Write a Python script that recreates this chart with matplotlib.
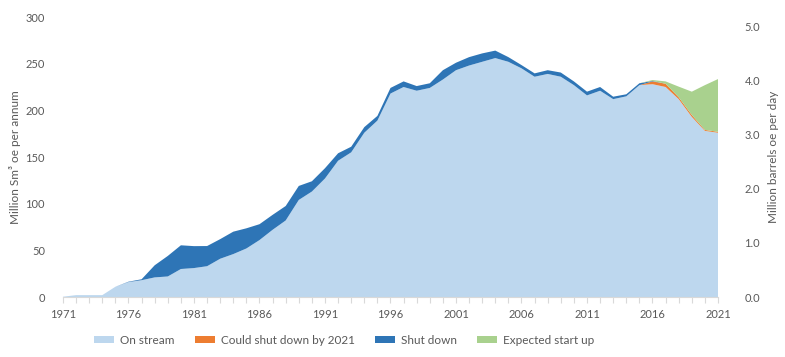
import matplotlib
matplotlib.use("Agg")
import matplotlib.pyplot as plt
from matplotlib.ticker import MultipleLocator, FormatStrFormatter
from matplotlib.patches import Patch

plt.rcParams['font.family'] = ['Lato', 'DejaVu Sans']

years = list(range(1971, 2022))
on_stream = [0.3, 2, 2, 2, 11, 16, 18, 21, 22, 30,
             31, 33, 41, 46, 52, 61, 72, 82, 104, 113,
             127, 146, 155, 176, 189, 218, 225, 221, 224, 233,
             243, 248, 252, 256, 252, 245, 236, 239, 236, 227,
             216, 221, 212, 215, 227, 228, 225, 212, 193, 178,
             176]
could_shut = [0] * 45 + [3, 3.5, 2, 2, 1, 1]
shut_down = [0, 0, 0, 0, 0, 0.4, 1, 13, 22, 25.4,
             23.5, 21.6, 21, 24, 21.6, 17, 16, 15.5, 15, 11,
             11, 8, 6, 6, 5, 6, 6, 5, 5, 10,
             8, 9, 9, 8, 5, 3.5, 3.6, 4, 4.5, 4,
             4, 4, 2.6, 2.2, 2, 0.5, 0, 0, 0, 0,
             0]
startup = [0] * 45 + [1, 2.5, 11.4, 25, 48, 56.5]

labels = ["On stream", "Could shut down by 2021", "Shut down", "Expected start up"]
colors = ["#BDD7EE", "#ED7D31", "#2E75B6", "#A9D18E"]
xtick_years = [1971, 1976, 1981, 1986, 1991, 1996, 2001, 2006, 2011, 2016, 2021]
conv = 58.07  # Msm3 oe per year per million barrels per day

W, H = 785, 357
fig = plt.figure(figsize=(W / 100, H / 100), dpi=100)
ax = fig.add_axes([63 / W, 1 - 297 / H, (718 - 63) / W, 280 / H])

ax.stackplot(years, on_stream, could_shut, shut_down, startup,
             colors=colors, linewidth=0)

ax.set_xlim(1971, 2021)
ax.set_ylim(0, 300)
ax.set_xticks(xtick_years)
ax.xaxis.set_minor_locator(MultipleLocator(1))
ax.yaxis.set_major_locator(MultipleLocator(50))
tc = "#595959"
ax.tick_params(axis='x', which='both', direction='out', length=4, width=0.8,
               color="#D9D9D9", labelsize=8, labelcolor=tc, pad=5)
ax.tick_params(axis='y', length=0, labelsize=8, labelcolor=tc, pad=13)
for s in ['top', 'right', 'left']:
    ax.spines[s].set_visible(False)
ax.spines['bottom'].set_color("#D9D9D9")
ax.set_ylabel("Million Sm³ oe per annum", fontsize=8.5, color=tc, labelpad=3)

ax2 = ax.twinx()
ax2.set_ylim(0, 300 / conv)
ax2.yaxis.set_major_locator(MultipleLocator(1.0))
ax2.yaxis.set_major_formatter(FormatStrFormatter('%.1f'))
ax2.tick_params(axis='y', length=0, labelsize=8, labelcolor=tc, pad=19)
for s in ['top', 'right', 'left', 'bottom']:
    ax2.spines[s].set_visible(False)
ax2.set_ylabel("Million barrels oe per day", fontsize=8.5, color=tc, labelpad=6)

handles = [Patch(facecolor=c, edgecolor='none') for c in colors]
fig.legend(handles, labels, loc='center', bbox_to_anchor=(344 / W, 1 - 340 / H),
           ncol=4, frameon=False, fontsize=8.5, labelcolor=tc,
           handlelength=1.7, handleheight=0.55, columnspacing=1.7,
           handletextpad=0.5)

fig.savefig("out.png", dpi=100)
